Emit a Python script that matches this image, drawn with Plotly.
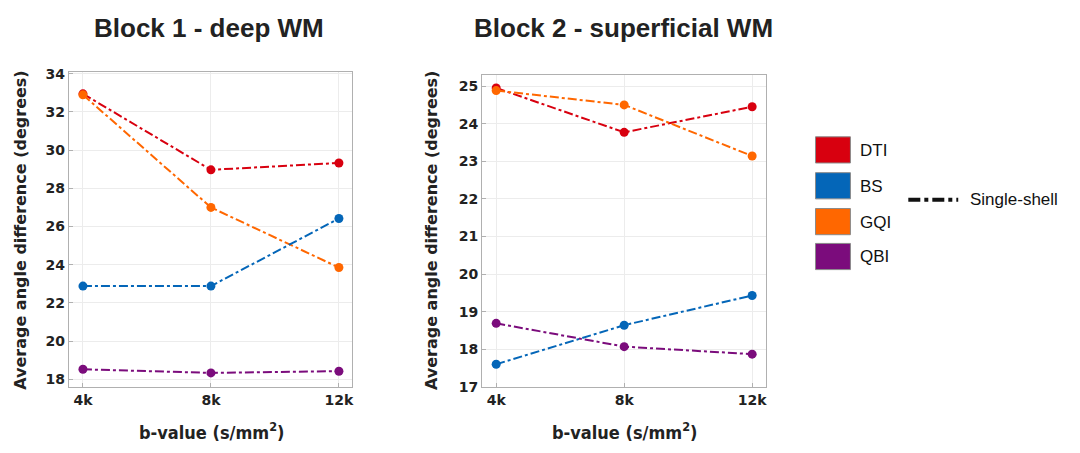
import plotly.graph_objects as go
from plotly.subplots import make_subplots

bvalues = [4, 8, 12]
tick_labels = ["4k", "8k", "12k"]
methods = ["DTI", "BS", "GQI", "QBI"]
colors = {"DTI": "#d8000f", "BS": "#0466b8", "GQI": "#ff6700", "QBI": "#7b0c7c"}

block1 = {
    "DTI": [32.95, 28.97, 29.33],
    "BS": [22.88, 22.88, 26.42],
    "GQI": [32.9, 27.0, 23.85],
    "QBI": [18.52, 18.33, 18.42],
}
block2 = {
    "DTI": [24.95, 23.77, 24.45],
    "BS": [17.6, 18.64, 19.43],
    "GQI": [24.88, 24.5, 23.14],
    "QBI": [18.69, 18.07, 17.87],
}

W, H = 1080, 453
fig = make_subplots(rows=1, cols=2)

for col, data in [(1, block1), (2, block2)]:
    for m in ["DTI", "GQI", "BS", "QBI"]:
        fig.add_trace(go.Scatter(
            x=bvalues, y=data[m], mode="lines+markers", name=m, showlegend=False,
            line=dict(color=colors[m], width=2, dash="dashdot"),
            marker=dict(color=colors[m], size=9, symbol="circle"),
        ), row=1, col=col)

def px_x(p):
    return p / W

def px_y(p):
    return 1 - p / H

font_tick = dict(family="DejaVu Sans", size=14, color="#222222", weight="bold")
axis_common = dict(
    showline=True, linecolor="#b0b0b0", linewidth=1, mirror=True,
    showgrid=True, gridcolor="#ececec", gridwidth=1,
    ticks="inside", ticklen=4, tickcolor="#b0b0b0",
    tickfont=font_tick, zeroline=False,
)

fig.update_xaxes(**axis_common, tickvals=bvalues, ticktext=tick_labels, range=[3.56, 12.42])
fig.update_xaxes(domain=[px_x(69), px_x(353)], row=1, col=1)
fig.update_xaxes(domain=[px_x(483), px_x(767)], row=1, col=2)
fig.update_yaxes(**axis_common)
fig.update_yaxes(domain=[px_y(393), px_y(68)], range=[17.6, 34.1], dtick=2, row=1, col=1)
fig.update_yaxes(domain=[px_y(393), px_y(71)], range=[17.0, 25.3], dtick=1, row=1, col=2)

ann = []
# titles
ann.append(dict(text="<b>Block 1 - deep WM</b>", x=px_x(209), y=px_y(23), xref="paper", yref="paper",
                showarrow=False, font=dict(family="Liberation Sans", size=26, color="#222222"),
                xanchor="center", yanchor="middle"))
ann.append(dict(text="<b>Block 2 - superficial WM</b>", x=px_x(625), y=px_y(23), xref="paper", yref="paper",
                showarrow=False, font=dict(family="Liberation Sans", size=26, color="#222222"),
                xanchor="center", yanchor="middle"))
# axis titles
for cx in [212, 626]:
    ann.append(dict(text="<b>b-value (s/mm<sup>2</sup>)</b>", x=px_x(cx), y=px_y(439), xref="paper", yref="paper",
                    showarrow=False, font=dict(family="DejaVu Sans Condensed, DejaVu Sans", size=18, color="#222222"),
                    xanchor="center", yanchor="middle"))
for cx, cy in [(21, 231), (433, 231)]:
    ann.append(dict(text="<b>Average angle difference (degrees)</b>", x=px_x(cx), y=px_y(cy), xref="paper", yref="paper",
                    showarrow=False, textangle=-90, font=dict(family="DejaVu Sans", size=16, color="#222222"),
                    xanchor="center", yanchor="middle"))

shapes = []
box_tops = [135, 172, 209, 245]
for m, top in zip(methods, box_tops):
    shapes.append(dict(type="rect", xref="paper", yref="paper",
                       x0=px_x(817), x1=px_x(852), y0=px_y(top + 27), y1=px_y(top),
                       fillcolor=colors[m], line=dict(color="#8a8a8a", width=1)))
    ann.append(dict(text=m, x=px_x(860), y=px_y(top + 14), xref="paper", yref="paper", showarrow=False,
                    font=dict(family="Liberation Sans", size=17, color="#111111"),
                    xanchor="left", yanchor="middle"))
shapes.append(dict(type="line", xref="paper", yref="paper", x0=px_x(910), x1=px_x(960),
                   y0=px_y(200), y1=px_y(200), line=dict(color="#111111", width=4, dash="dashdot")))
ann.append(dict(text="Single-shell", x=px_x(970), y=px_y(200), xref="paper", yref="paper", showarrow=False,
                font=dict(family="Liberation Sans", size=17, color="#111111"),
                xanchor="left", yanchor="middle"))

fig.update_layout(
    width=W, height=H, margin=dict(l=0, r=0, t=0, b=0),
    paper_bgcolor="white", plot_bgcolor="white",
    annotations=ann, shapes=shapes, showlegend=False,
)

fig.write_html("out.html")
